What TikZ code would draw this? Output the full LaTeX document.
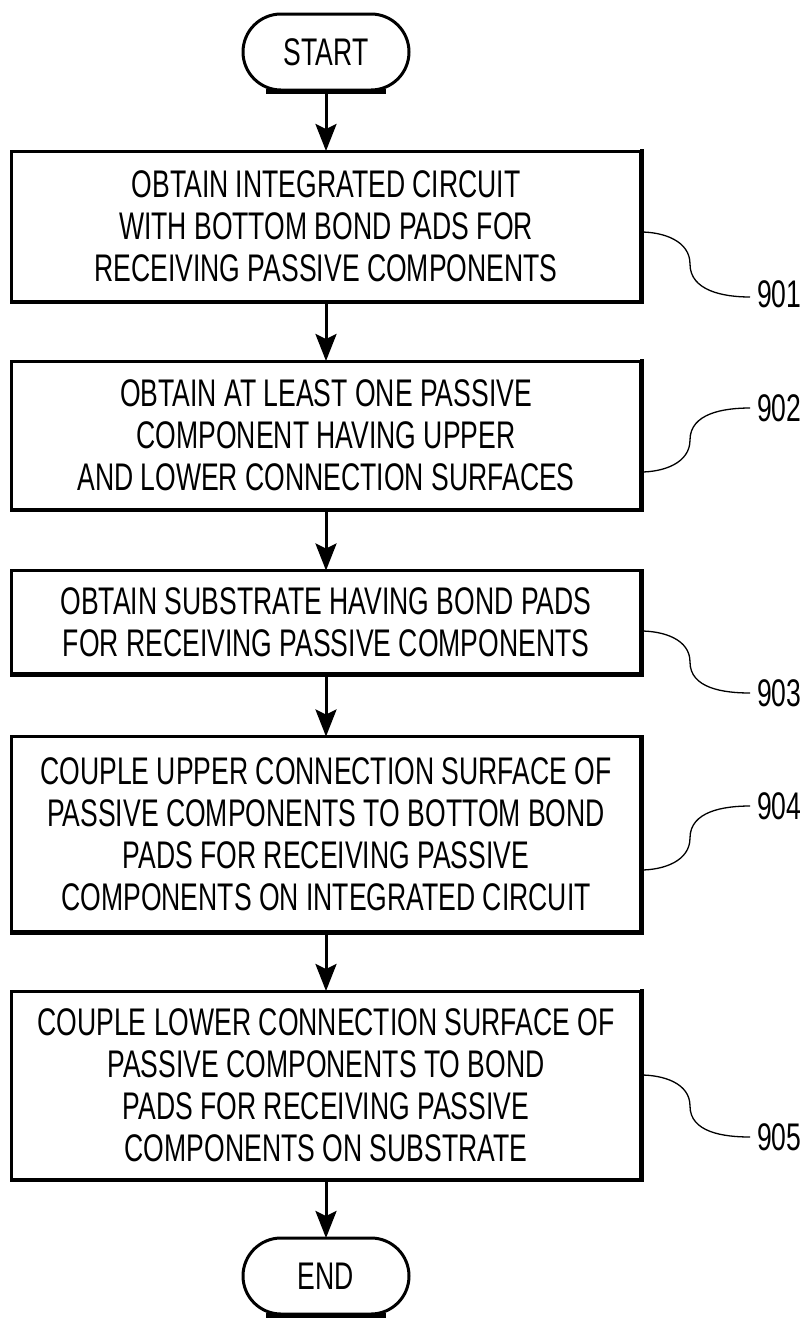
\documentclass[tikz,border=0pt]{standalone}
\usepackage{fontspec}
\setmainfont{Liberation Sans}[FakeStretch=0.69]
\usetikzlibrary{shapes.misc,arrows.meta}

\tikzset{
  stepbox/.style={draw, rectangle, line width=3pt, outer sep=0pt, inner sep=0pt,
    minimum width=629pt, align=center, font=\fontsize{38.5}{42}\selectfont},
  termbox/.style={draw, rounded rectangle, line width=3pt, outer sep=0pt, inner sep=0pt,
    minimum width=166pt, minimum height=76pt, font=\fontsize{38.5}{42}\selectfont},
  flow/.style={line width=3pt, -{Stealth[length=27pt,width=21pt,inset=5pt]}},
  lead/.style={line width=1.3pt},
  refnum/.style={anchor=west, inner sep=0pt, font=\fontsize{38.5}{42}\selectfont},
  heavy/.style={line width=4pt, line cap=rect}
}

\begin{document}
\begin{tikzpicture}[x=1pt, y=-1pt]
  \useasboundingbox (0,0) rectangle (810,1318);

  % terminals
  \node[termbox] (start) at (326,52) {START};
  \node[termbox] (end) at (326,1276) {END};

  % process steps
  \node[stepbox, minimum height=150pt] (b1) at (326,226)
    {OBTAIN INTEGRATED CIRCUIT\\WITH BOTTOM BOND PADS FOR\\RECEIVING PASSIVE COMPONENTS};
  \node[stepbox, minimum height=148pt] (b2) at (326,435)
    {OBTAIN AT LEAST ONE PASSIVE\\COMPONENT HAVING UPPER\\AND LOWER CONNECTION SURFACES};
  \node[stepbox, minimum height=103pt] (b3) at (326,622)
    {OBTAIN SUBSTRATE HAVING BOND PADS\\FOR RECEIVING PASSIVE COMPONENTS};
  \node[stepbox, minimum height=195pt] (b4) at (326,834)
    {COUPLE UPPER CONNECTION SURFACE OF\\PASSIVE COMPONENTS TO BOTTOM BOND\\PADS FOR RECEIVING PASSIVE\\COMPONENTS ON INTEGRATED CIRCUIT};
  \node[stepbox, minimum height=188pt] (b5) at (326,1085)
    {COUPLE LOWER CONNECTION SURFACE OF\\PASSIVE COMPONENTS TO BOND\\PADS FOR RECEIVING PASSIVE\\COMPONENTS ON SUBSTRATE};

  % heavier bottom and right edges
  \foreach \b in {b1,b2,b3,b4,b5} {
    \draw[heavy] ([shift={(0,1)}]\b.south west) -- ([shift={(1,1)}]\b.south east)
      -- ([shift={(1,0)}]\b.north east);
  }
  \draw[line width=4.5pt] ([shift={(-60,1.5)}]start.south) -- ([shift={(60,1.5)}]start.south);
  \draw[line width=4.5pt] ([shift={(-60,1.5)}]end.south) -- ([shift={(60,1.5)}]end.south);

  % flow arrows
  \draw[flow] (start) -- (b1);
  \draw[flow] (b1) -- (b2);
  \draw[flow] (b2) -- (b3);
  \draw[flow] (b3) -- (b4);
  \draw[flow] (b4) -- (b5);
  \draw[flow] (b5) -- (end);

  % reference numerals
  \node[refnum] (n901) at (757,294) {901};
  \node[refnum] (n902) at (757,408) {902};
  \node[refnum] (n903) at (757,693) {903};
  \node[refnum] (n904) at (757,806) {904};
  \node[refnum] (n905) at (757,1137) {905};

  % leader lines
  \draw[lead] (b1.east |- 0,232) to[out=0,in=90] (690,264) to[out=-90,in=180] (750,297);
  \draw[lead] (b2.east |- 0,472) to[out=0,in=-90] (690,440) to[out=90,in=180] (750,408);
  \draw[lead] (b3.east |- 0,631) to[out=0,in=90] (690,662) to[out=-90,in=180] (750,693);
  \draw[lead] (b4.east |- 0,870) to[out=0,in=-90] (690,838) to[out=90,in=180] (750,806);
  \draw[lead] (b5.east |- 0,1075) to[out=0,in=90] (690,1106) to[out=-90,in=180] (750,1137);
\end{tikzpicture}
\end{document}
